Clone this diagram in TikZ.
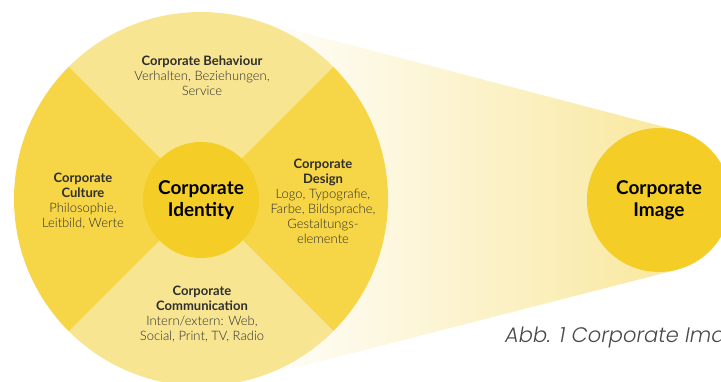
\documentclass[tikz,border=0pt]{standalone}
\usepackage{fontspec}
\setmainfont{Lato}
\newfontfamily\thinfont{Lato Light}
\newfontfamily\capfont{Poppins Light}
\usetikzlibrary{calc}
\definecolor{ciDark}{HTML}{F6D547}
\definecolor{ciLight}{HTML}{F8E592}
\definecolor{ciCore}{HTML}{F4CE27}
\definecolor{ciText}{HTML}{2E2E2E}
\definecolor{capGray}{HTML}{4A4A4A}

\begin{document}
\begin{tikzpicture}[
    x=1pt, y=-1pt,
    core/.style={circle, fill=ciCore, minimum size=116pt, inner sep=0pt, align=center, font=\bfseries\fontsize{19}{22}\selectfont, text=black},
    part/.style={align=center, text=ciText, font=\fontsize{13}{15}\selectfont},
    ttl/.style={font=\bfseries}
]
\useasboundingbox (0,0) rectangle (721,382);
\clip (0,0) rectangle (721,382);

% cone towards the image circle
\shade[left color=white, right color=ciLight!90]
    (247.8,18.0) -- (677.0,130.3) -- (677.0,269.7) -- (247.8,380.0) -- cycle;

% four sectors of the big circle
\coordinate (ctr) at (201,199);
\fill[ciLight] (ctr) -- ++(225:187) arc[start angle=225, end angle=315, radius=187] -- cycle;
\fill[ciDark]  (ctr) -- ++(315:187) arc[start angle=315, end angle=405, radius=187] -- cycle;
\fill[ciLight] (ctr) -- ++(45:187)  arc[start angle=45,  end angle=135, radius=187] -- cycle;
\fill[ciDark]  (ctr) -- ++(135:187) arc[start angle=135, end angle=225, radius=187] -- cycle;

\node[core] (ident) at (201,200) {Corporate\\Identity};
\node[core, minimum size=144pt] (image) at (659,200) {Corporate\\Image};

\node[part] (behav) at (202,76) {{\bfseries Corporate Behaviour}\\{\thinfont Verhalten, Beziehungen,}\\{\thinfont Service}};
\node[part] (cult) at (83,201) {{\bfseries Corporate}\\{\bfseries Culture}\\{\thinfont Philosophie,}\\{\thinfont Leitbild, Werte}};
\node[part] (design) at (323,201) {{\bfseries Corporate}\\{\bfseries Design}\\{\thinfont Logo, Typografie,}\\{\thinfont Farbe, Bildsprache,}\\{\thinfont Gestaltungs-}\\{\thinfont elemente}};
\node[part] (comm) at (202,314) {{\bfseries Corporate}\\{\bfseries Communication}\\{\thinfont Intern/extern: Web,}\\{\thinfont Social, Print, TV, Radio}};

% caption runs past the right edge
\node[anchor=base west, inner sep=0pt, text=capGray, font=\capfont\itshape\fontsize{21}{24}\selectfont] (cap) at (505,343) {Abb. 1 Corporate Image};
\end{tikzpicture}
\end{document}
